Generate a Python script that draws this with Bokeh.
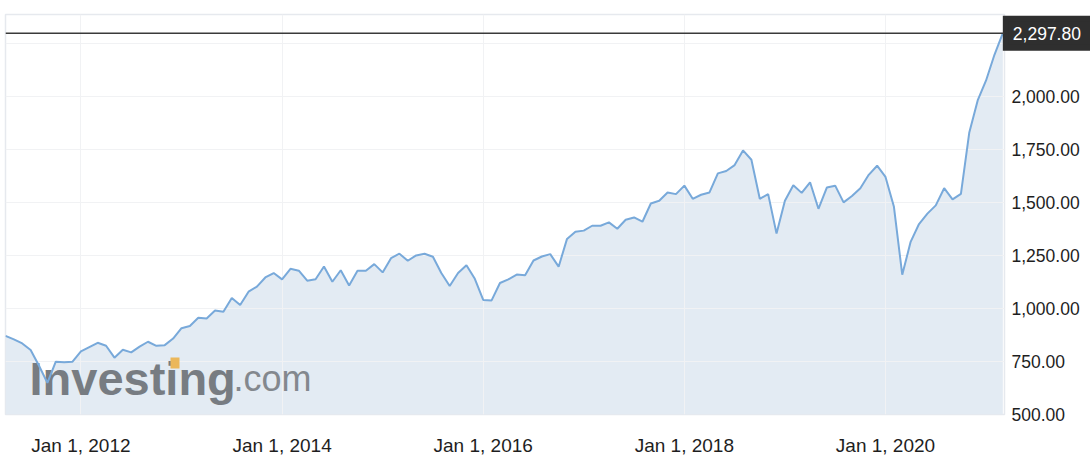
import pandas as pd
from bokeh.plotting import figure
from bokeh.models import (ColumnDataSource, FixedTicker, Span, Label, Range1d,
                          BoxAnnotation)
from bokeh.embed import file_html
from bokeh.resources import INLINE

# ---------------- data ----------------
start_month = "2011-04"
values = [
    871, 854, 835, 804, 730, 649, 749, 746, 749,                     # Apr-Dec 2011
    798, 818, 838, 824, 768, 805, 793, 820, 843, 824, 827, 858,      # 2012
    907, 917, 956, 953, 990, 984, 1049, 1016, 1079, 1103, 1146, 1167,  # 2013
    1137, 1187, 1178, 1131, 1138, 1198, 1126, 1180, 1108, 1178, 1178, 1209,  # 2014
    1170, 1237, 1258, 1225, 1250, 1258, 1244, 1167, 1106, 1167, 1204, 1140,  # 2015
    1040, 1038, 1120, 1137, 1160, 1157, 1226, 1245, 1256, 1197, 1328, 1362,  # 2016
    1367, 1390, 1390, 1406, 1376, 1418, 1429, 1409, 1495, 1508, 1547, 1539,  # 2017
    1579, 1517, 1536, 1547, 1637, 1648, 1676, 1745, 1701, 1517, 1539, 1353,  # 2018
    1508, 1581, 1545, 1595, 1470, 1570, 1579, 1500, 1530, 1567, 1630, 1673,  # 2019
    1620, 1481, 1159, 1314, 1398, 1447, 1486, 1567, 1514, 1540, 1830, 1981,  # 2020
    2075, 2196, 2297.8,                                              # Jan-Mar 2021
]
last_value_label = "2,297.80"
tick_dates = ["2012-01-01", "2014-01-01", "2016-01-01", "2018-01-01", "2020-01-01"]
tick_labels = ["Jan 1, 2012", "Jan 1, 2014", "Jan 1, 2016", "Jan 1, 2018", "Jan 1, 2020"]
y_ticks = [500, 750, 1000, 1250, 1500, 1750, 2000, 2250]

# month index relative to Jan 2012
dates = pd.date_range(start=start_month, periods=len(values), freq="MS")
x = [(d.year - 2012) * 12 + d.month - 1 for d in dates]
tick_x = [(pd.Timestamp(t).year - 2012) * 12 + pd.Timestamp(t).month - 1 for t in tick_dates]

src = ColumnDataSource(dict(x=x, y=values))

FONT = "Liberation Sans"

p = figure(frame_width=999, frame_height=400, output_backend="svg", toolbar_location=None,
           y_axis_location="right",
           x_range=Range1d(x[0], x[-1] + 0.2), y_range=Range1d(500, 2386),
           min_border_left=5, min_border_top=14, min_border_right=0, min_border_bottom=0)

p.background_fill_color = "white"
p.border_fill_color = "white"
p.outline_line_color = "#e6e9ee"
p.outline_line_width = 1.5

# area + line
p.varea(x="x", y1=y_ticks[0], y2="y", source=src, fill_color="#e3ebf3", level="image")
p.line(x="x", y="y", source=src, line_color="#78a9da", line_width=2)

# watermark
p.add_layout(Label(x=24, y=36, x_units="screen", y_units="screen", text="Investing",
                   text_font=FONT, text_font_style="bold", text_font_size="47px",
                   text_color="#777c82", text_baseline="alphabetic", level="underlay"))
p.add_layout(Label(x=228, y=36, x_units="screen", y_units="screen", text=".com",
                   text_font=FONT, text_font_size="36px",
                   text_color="#83888e", text_baseline="alphabetic", level="underlay"))
p.add_layout(BoxAnnotation(left=165, right=174, bottom=46, top=57,
                           left_units="screen", right_units="screen",
                           bottom_units="screen", top_units="screen",
                           fill_color="#ebb75a", fill_alpha=1, line_color=None,
                           level="underlay"))

# last value line & tag
p.add_layout(Span(location=values[-1], dimension="width", line_color="#3a3a3a",
                  line_width=1.5))
p.add_layout(Label(x=x[-1], y=values[-1], text=last_value_label, text_font=FONT,
                   text_font_size="17.5px", text_color="white", text_align="left",
                   text_baseline="middle", background_fill_color="#2f2f2f",
                   border_line_color="#2f2f2f", border_line_width=6,
                   border_line_join="miter",
                   x_offset=3, padding=dict(left=7, right=20, top=8, bottom=8)), "right")

# axes
xa = p.xaxis[0]
xa.ticker = FixedTicker(ticks=tick_x)
xa.major_label_overrides = {int(t): l for t, l in zip(tick_x, tick_labels)}
xa.axis_line_color = None
xa.major_tick_line_color = None
xa.minor_tick_line_color = None
xa.major_label_text_font = FONT
xa.major_label_text_font_size = "19px"
xa.major_label_text_color = "#1e1e1e"
xa.major_label_standoff = 14

ya = p.yaxis[0]
ya.ticker = FixedTicker(ticks=y_ticks)
ya.major_label_overrides = {t: (f"{t:,.2f}" if t != 2250 else "") for t in y_ticks}
ya.axis_line_color = None
ya.major_tick_line_color = None
ya.minor_tick_line_color = None
ya.major_label_text_font = FONT
ya.major_label_text_font_size = "17.5px"
ya.major_label_text_color = "#1e1e1e"
ya.major_label_standoff = 1

p.xgrid.grid_line_color = "#f1f2f4"
p.ygrid.grid_line_color = "#f1f2f4"
p.xgrid.ticker = FixedTicker(ticks=tick_x)
p.ygrid.ticker = FixedTicker(ticks=y_ticks)

open("out.html", "w").write(file_html(p, INLINE))
